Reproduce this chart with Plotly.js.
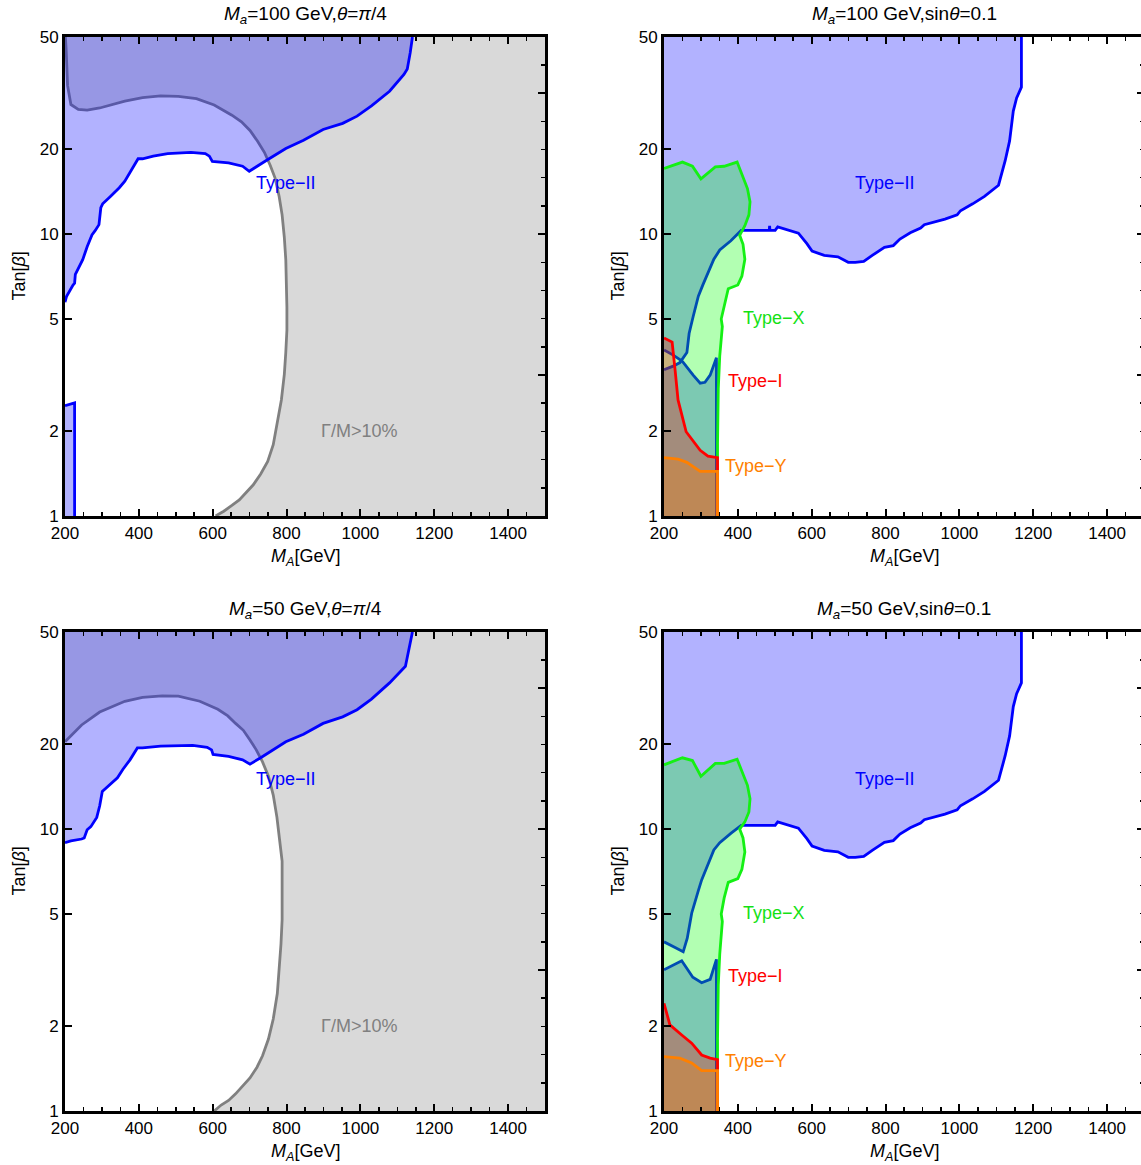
<!DOCTYPE html>
<html><head><meta charset="utf-8">
<script src="https://cdn.plot.ly/plotly-3.0.1.min.js"></script>
<style>html,body{margin:0;padding:0;overflow:hidden;background:#fff}#plot{width:1160px;height:1165px}</style>
</head><body><div id="plot"></div>
<script>
// ---------- axes ----------
const X_MIN = 200, X_MAX = 1500, Y_MIN = 1, Y_MAX = 50;
const xTickVals = [200, 400, 600, 800, 1000, 1200, 1400];
const yTickVals = [1, 2, 5, 10, 20, 50];
const rightMajorLog = [0.5, 1.0, 1.5];
const rightMinorLog = [0.1, 0.2, 0.3, 0.4, 0.6, 0.7, 0.8, 0.9, 1.1, 1.2, 1.3, 1.4, 1.6];

// ---------- panel titles ----------
const panelTitles = [
  '<i>M</i><sub><i>a</i></sub>=100 GeV,<i>θ</i>=<i>π</i>/4',
  '<i>M</i><sub><i>a</i></sub>=100 GeV,sin<i>θ</i>=0.1',
  '<i>M</i><sub><i>a</i></sub>=50 GeV,<i>θ</i>=<i>π</i>/4',
  '<i>M</i><sub><i>a</i></sub>=50 GeV,sin<i>θ</i>=0.1'
];
const xTitle = '<i>M</i><sub><i>A</i></sub>[GeV]';
const yTitle = 'Tan[<i>β</i>]';

// ---------- top-left: Ma=100, theta=pi/4 ----------
const widthTL_x = [201, 203, 207, 216, 236, 260, 294, 362, 410, 459, 507, 556, 604, 628, 652, 678, 701, 722, 740, 756, 769, 780, 788, 794, 798, 801, 801, 798, 794, 786, 776, 764, 749, 730, 710, 691, 672, 652, 630, 608];
const widthTL_y = [50, 45.4, 33.6, 28.8, 27.7, 27.5, 28.0, 29.6, 30.5, 30.9, 30.8, 30.2, 28.7, 27.6, 26.4, 25.0, 23.3, 21.3, 19.5, 17.5, 15.8, 13.6, 11.7, 9.73, 8.1, 5.48, 4.57, 3.81, 3.18, 2.58, 2.15, 1.79, 1.56, 1.41, 1.29, 1.21, 1.14, 1.09, 1.04, 1.0];
const typeIITL_x = [200, 204, 221, 226, 228, 238, 248, 260, 273, 282, 292, 297, 302, 323, 347, 362, 373, 386, 398, 410, 439, 478, 507, 541, 580, 591, 599, 643, 681, 699, 744, 798, 846, 899, 952, 991, 1030, 1079, 1118, 1127, 1135, 1141];
const typeIITL_y = [5.73, 6.0, 6.57, 6.7, 7.19, 7.69, 8.11, 9.02, 9.93, 10.3, 10.8, 12.4, 12.8, 13.6, 14.6, 15.4, 16.3, 17.3, 18.5, 18.5, 18.9, 19.3, 19.4, 19.5, 19.3, 18.9, 18.1, 17.9, 17.4, 16.7, 18.2, 20.1, 21.5, 23.5, 24.7, 26.2, 28.5, 32.1, 36.8, 38.5, 44.0, 50];
const typeIITLlow_x = [200, 226, 226];
const typeIITLlow_y = [2.46, 2.52, 1];

// ---------- bottom-left: Ma=50, theta=pi/4 ----------
const widthBL_x = [200, 245, 294, 362, 410, 463, 507, 565, 614, 641, 662, 683, 701, 718, 735, 751, 764, 774, 781, 788, 788, 788, 785, 781, 775, 764, 751, 735, 720, 701, 681, 662, 643, 623, 604];
const widthBL_y = [20.4, 23.4, 26.0, 28.4, 29.3, 29.7, 29.6, 28.4, 26.6, 25.2, 23.7, 22.4, 20.7, 19.1, 17.3, 15.4, 13.2, 11.0, 9.2, 7.7, 6.43, 4.76, 3.92, 3.22, 2.61, 2.12, 1.80, 1.57, 1.43, 1.31, 1.22, 1.15, 1.09, 1.05, 1.0];
const typeIIBL_x = [200, 216, 245, 252, 260, 270, 286, 294, 301, 323, 342, 357, 376, 396, 410, 459, 507, 546, 585, 597, 601, 643, 681, 701, 730, 798, 846, 899, 952, 991, 1030, 1079, 1122, 1132, 1141];
const typeIIBL_y = [8.95, 9.08, 9.22, 9.3, 9.94, 10.2, 11.0, 12.1, 13.6, 14.5, 15.2, 16.3, 17.6, 19.4, 19.4, 19.7, 19.8, 19.8, 19.5, 19.1, 18.4, 18.1, 17.6, 17.0, 17.9, 20.4, 21.7, 23.7, 25.0, 26.5, 28.9, 33.0, 37.8, 43.3, 50];

// ---------- top-right: Ma=100, sin(theta)=0.1 ----------
const mainTR_x = [1168, 1168, 1155, 1146, 1136, 1124, 1106, 1068, 1036, 1003, 994, 961, 905, 895, 867, 839, 821, 797, 764, 741, 718, 699, 671, 634, 601, 587, 564, 531, 508, 501, 487, 486, 485, 409];
const mainTR_y = [50, 33.2, 30.4, 27.3, 21.4, 18.2, 14.9, 13.6, 12.8, 12.1, 11.7, 11.3, 10.8, 10.5, 10.1, 9.6, 9.1, 8.97, 8.4, 8.0, 7.94, 7.94, 8.3, 8.4, 8.7, 9.25, 10.07, 10.4, 10.6, 10.3, 10.3, 10.7, 10.3, 10.3];
const bUpTR_x = [381, 351, 335, 305, 293, 279, 268, 262, 252, 247];
const bUpTR_y = [9.47, 8.78, 8.14, 6.59, 6.02, 5.1, 4.44, 3.8, 3.62, 3.56];
const bLoTR_x = [243, 225, 200];
const bLoTR_y = [3.5, 3.4, 3.3];
const aLeTR_x = [200, 225, 247];
const aLeTR_y = [3.88, 3.72, 3.56];
const aRiTR_x = [251, 279, 298, 311, 325, 342, 342];
const aRiTR_y = [3.52, 3.16, 2.96, 2.98, 3.16, 3.64, 1];
const typeXTR_x = [200, 250, 277, 300, 339, 363, 398, 414, 426, 433, 430, 419, 405, 414, 419, 411, 400, 374, 363, 355, 358, 351, 347, 345, 345];
const typeXTR_y = [17.1, 18.0, 17.4, 15.7, 17.3, 17.4, 18.0, 15.8, 14.5, 13.0, 11.7, 10.7, 9.9, 9.2, 8.14, 7.1, 6.6, 6.4, 5.5, 5.0, 4.7, 3.7, 2.82, 1.8, 1];
const typeITR_x = [200, 222, 230, 238, 260, 298, 319, 345, 345];
const typeITR_y = [4.28, 4.14, 3.3, 2.58, 1.99, 1.71, 1.63, 1.61, 1];
const typeYTR_x = [200, 238, 262, 298, 345, 345];
const typeYTR_y = [1.61, 1.59, 1.55, 1.44, 1.44, 1];

// ---------- bottom-right: Ma=50, sin(theta)=0.1 ----------
const mainBR_x = [1168, 1168, 1155, 1146, 1136, 1124, 1106, 1068, 1036, 1003, 994, 961, 905, 895, 867, 839, 821, 797, 764, 741, 718, 699, 671, 634, 601, 587, 564, 531, 508, 501, 409];
const mainBR_y = [50, 33.0, 30.2, 27.2, 21.4, 18.2, 14.9, 13.6, 12.8, 12.1, 11.7, 11.3, 10.8, 10.5, 10.1, 9.6, 9.1, 8.97, 8.4, 8.0, 7.94, 7.94, 8.3, 8.4, 8.7, 9.25, 10.07, 10.4, 10.6, 10.3, 10.3];
const bBR_x = [381, 351, 335, 302, 293, 275, 263, 252, 230, 200];
const bBR_y = [9.65, 8.95, 8.43, 6.6, 6.05, 5.03, 4.10, 3.67, 3.8, 3.98];
const aBR_x = [200, 248, 278, 302, 325, 342, 342];
const aBR_y = [3.17, 3.41, 2.98, 2.85, 2.93, 3.45, 1];
const typeXBR_x = [200, 250, 277, 300, 339, 363, 398, 414, 426, 433, 430, 419, 405, 414, 419, 411, 400, 374, 363, 355, 358, 351, 347, 345, 345];
const typeXBR_y = [16.9, 17.9, 17.5, 15.4, 17.1, 17.1, 17.7, 15.8, 14.3, 12.8, 11.5, 10.6, 10.0, 9.3, 8.3, 7.2, 6.67, 6.47, 5.7, 5.0, 4.7, 3.6, 2.8, 1.8, 1];
const typeIBR_x = [200, 216, 248, 275, 302, 325, 345, 345];
const typeIBR_y = [2.41, 2.02, 1.86, 1.74, 1.58, 1.54, 1.52, 1];
const typeYBR_x = [200, 243, 275, 302, 345, 345];
const typeYBR_y = [1.56, 1.54, 1.48, 1.39, 1.39, 1];

// ---------- region labels ----------
const labelText = ['Type−II', 'Γ/M>10%', 'Type−II', 'Type−X', 'Type−I', 'Type−Y', 'Type−II', 'Γ/M>10%', 'Type−II', 'Type−X', 'Type−I', 'Type−Y'];
const labelPanel = [0, 0, 1, 1, 1, 1, 2, 2, 3, 3, 3, 3];
const labelX = [799, 997, 799, 498, 449, 449, 799, 997, 799, 498, 449, 449];
const labelY = [15.2, 2.0, 15.2, 5.04, 3.01, 1.50, 15.1, 2.0, 15.1, 5.04, 3.01, 1.50];
const labelColor = ['blue', 'gray', 'blue', 'green', 'red', 'orange', 'blue', 'gray', 'blue', 'green', 'red', 'orange'];

// ---------- styles ----------
const FONT = '"Liberation Sans", Arial, Helvetica, sans-serif';
const COL = {
  blue:   {line: 'rgb(0,0,255)',     fill: 'rgba(0,0,255,0.3)',   text: 'rgb(0,0,255)'},
  green:  {line: 'rgb(20,240,20)',   fill: 'rgba(0,255,0,0.3)',   text: 'rgb(20,225,20)'},
  red:    {line: 'rgb(255,0,0)',     fill: 'rgba(255,0,0,0.3)',   text: 'rgb(255,0,0)'},
  orange: {line: 'rgb(255,128,0)',   fill: 'rgba(255,128,0,0.3)', text: 'rgb(255,128,0)'},
  gray:   {line: 'rgb(128,128,128)', fill: 'rgb(217,217,217)',    text: 'rgb(128,128,128)'}
};
const LW = 2.8;
const AX = [['x', 'y'], ['x2', 'y2'], ['x3', 'y3'], ['x4', 'y4']];

const traces = [];
function fillTrace(p, xs, ys, color) {
  traces.push({type: 'scatter', mode: 'none', x: xs, y: ys, fill: 'toself', fillcolor: color,
    xaxis: AX[p][0], yaxis: AX[p][1], hoverinfo: 'skip', showlegend: false});
}
function lineTrace(p, xs, ys, color) {
  traces.push({type: 'scatter', mode: 'lines', x: xs, y: ys, line: {color: color, width: LW},
    xaxis: AX[p][0], yaxis: AX[p][1], hoverinfo: 'skip', showlegend: false});
}
const rev = a => a.slice().reverse();

// top-left
fillTrace(0, widthTL_x.concat([X_MAX, X_MAX]), widthTL_y.concat([Y_MIN, Y_MAX]), COL.gray.fill);
lineTrace(0, widthTL_x, widthTL_y, COL.gray.line);
fillTrace(0, typeIITL_x.concat([X_MIN]), typeIITL_y.concat([Y_MAX]), COL.blue.fill);
lineTrace(0, typeIITL_x, typeIITL_y, COL.blue.line);
fillTrace(0, typeIITLlow_x.concat([X_MIN]), typeIITLlow_y.concat([Y_MIN]), COL.blue.fill);
lineTrace(0, typeIITLlow_x, typeIITLlow_y, COL.blue.line);

// bottom-left
fillTrace(2, [X_MIN].concat(widthBL_x, [X_MAX, X_MAX]), [Y_MAX].concat(widthBL_y, [Y_MIN, Y_MAX]), COL.gray.fill);
lineTrace(2, widthBL_x, widthBL_y, COL.gray.line);
fillTrace(2, typeIIBL_x.concat([X_MIN]), typeIIBL_y.concat([Y_MAX]), COL.blue.fill);
lineTrace(2, typeIIBL_x, typeIIBL_y, COL.blue.line);

// top-right
fillTrace(1, [X_MIN].concat(mainTR_x, bUpTR_x, rev(aLeTR_x)), [Y_MAX].concat(mainTR_y, bUpTR_y, rev(aLeTR_y)), COL.blue.fill);
fillTrace(1, [X_MIN].concat(rev(bLoTR_x), aLeTR_x.slice(-1), aRiTR_x), [Y_MIN].concat(rev(bLoTR_y), aLeTR_y.slice(-1), aRiTR_y), COL.blue.fill);
lineTrace(1, mainTR_x.concat(bUpTR_x, bLoTR_x), mainTR_y.concat(bUpTR_y, bLoTR_y), COL.blue.line);
lineTrace(1, aLeTR_x.concat(aRiTR_x), aLeTR_y.concat(aRiTR_y), COL.blue.line);
fillTrace(1, typeXTR_x.concat([X_MIN]), typeXTR_y.concat([Y_MIN]), COL.green.fill);
lineTrace(1, typeXTR_x, typeXTR_y, COL.green.line);
fillTrace(1, typeITR_x.concat([X_MIN]), typeITR_y.concat([Y_MIN]), COL.red.fill);
lineTrace(1, typeITR_x, typeITR_y, COL.red.line);
fillTrace(1, typeYTR_x.concat([X_MIN]), typeYTR_y.concat([Y_MIN]), COL.orange.fill);
lineTrace(1, typeYTR_x, typeYTR_y, COL.orange.line);

// bottom-right
fillTrace(3, [X_MIN].concat(mainBR_x, bBR_x), [Y_MAX].concat(mainBR_y, bBR_y), COL.blue.fill);
fillTrace(3, [X_MIN].concat(aBR_x), [Y_MIN].concat(aBR_y), COL.blue.fill);
lineTrace(3, mainBR_x.concat(bBR_x), mainBR_y.concat(bBR_y), COL.blue.line);
lineTrace(3, aBR_x, aBR_y, COL.blue.line);
fillTrace(3, typeXBR_x.concat([X_MIN]), typeXBR_y.concat([Y_MIN]), COL.green.fill);
lineTrace(3, typeXBR_x, typeXBR_y, COL.green.line);
fillTrace(3, typeIBR_x.concat([X_MIN]), typeIBR_y.concat([Y_MIN]), COL.red.fill);
lineTrace(3, typeIBR_x, typeIBR_y, COL.red.line);
fillTrace(3, typeYBR_x.concat([X_MIN]), typeYBR_y.concat([Y_MIN]), COL.orange.fill);
lineTrace(3, typeYBR_x, typeYBR_y, COL.orange.line);

// empty traces to realise the right-hand frame axes (major and minor tick sets)
for (let i = 0; i < 4; i++) {
  ['y' + (i + 5), 'y' + (i + 9)].forEach(ya => {
    traces.push({type: 'scatter', mode: 'lines', x: [], y: [], xaxis: AX[i][0], yaxis: ya, hoverinfo: 'skip', showlegend: false});
  });
}

// ---------- layout ----------
const W = 1160, H = 1165;
const colPix = [[65, 545], [664, 1144], [65, 545], [664, 1144]];
const rowPix = [[37, 516], [37, 516], [632, 1111], [632, 1111]];
const yLogRange = [Math.log10(Y_MIN), Math.log10(Y_MAX)];
const tickFont = {family: FONT, size: 17, color: '#000'};
const FRAME = 3;

const layout = {
  width: W, height: H, margin: {l: 0, r: 0, t: 0, b: 0},
  paper_bgcolor: '#fff', plot_bgcolor: 'rgba(0,0,0,0)', showlegend: false,
  font: {family: FONT, size: 17, color: '#000'}, annotations: []
};
for (let p = 0; p < 4; p++) {
  const xk = p === 0 ? 'xaxis' : 'xaxis' + (p + 1);
  const yk = p === 0 ? 'yaxis' : 'yaxis' + (p + 1);
  const xid = AX[p][0], yid = AX[p][1];
  layout[xk] = {
    domain: [colPix[p][0] / W, colPix[p][1] / W], anchor: yid, range: [X_MIN, X_MAX],
    showline: true, linewidth: FRAME, linecolor: '#000', mirror: 'ticks',
    ticks: 'inside', ticklen: 7, tickwidth: 2, tickcolor: '#000',
    tickmode: 'array', tickvals: xTickVals, ticktext: xTickVals.map(String), tickfont: tickFont,
    showgrid: false, zeroline: false, fixedrange: true,
    minor: {ticks: 'inside', ticklen: 4, tickwidth: 1.5, tickcolor: '#000', tick0: X_MIN, dtick: 50, showgrid: false}
  };
  layout[yk] = {
    domain: [1 - rowPix[p][1] / H, 1 - rowPix[p][0] / H], anchor: xid, type: 'log', range: yLogRange,
    showline: true, linewidth: FRAME, linecolor: '#000', mirror: false,
    ticks: 'inside', ticklen: 7, tickwidth: 2, tickcolor: '#000',
    tickmode: 'array', tickvals: yTickVals, ticktext: yTickVals.map(String), tickfont: tickFont,
    showgrid: false, zeroline: false, fixedrange: true
  };
  layout['yaxis' + (p + 5)] = {
    overlaying: yid, anchor: xid, side: 'right', type: 'log', range: yLogRange,
    showline: true, linewidth: FRAME, linecolor: '#000',
    ticks: 'inside', ticklen: 7, tickwidth: 2, tickcolor: '#000',
    tickmode: 'array', tickvals: rightMajorLog.map(v => Math.pow(10, v)), showticklabels: false,
    showgrid: false, zeroline: false, fixedrange: true
  };
  layout['yaxis' + (p + 9)] = {
    overlaying: yid, anchor: xid, side: 'right', type: 'log', range: yLogRange,
    showline: false, ticks: 'inside', ticklen: 4, tickwidth: 1.5, tickcolor: '#000',
    tickmode: 'array', tickvals: rightMinorLog.map(v => Math.pow(10, v)), showticklabels: false,
    showgrid: false, zeroline: false, fixedrange: true
  };
  const cx = (colPix[p][0] + colPix[p][1]) / 2;
  layout.annotations.push({xref: 'paper', yref: 'paper', x: cx / W, y: 1 - (rowPix[p][0] - 22) / H,
    text: panelTitles[p], showarrow: false, xanchor: 'center', yanchor: 'middle', font: {family: FONT, size: 19, color: '#000'}});
  layout.annotations.push({xref: 'paper', yref: 'paper', x: cx / W, y: 1 - (rowPix[p][1] + 41) / H,
    text: xTitle, showarrow: false, xanchor: 'center', yanchor: 'middle', font: {family: FONT, size: 18, color: '#000'}});
  layout.annotations.push({xref: 'paper', yref: 'paper', x: (colPix[p][0] - 47) / W, y: 1 - ((rowPix[p][0] + rowPix[p][1]) / 2) / H,
    text: yTitle, showarrow: false, textangle: -90, xanchor: 'center', yanchor: 'middle', font: {family: FONT, size: 18, color: '#000'}});
}
for (let i = 0; i < labelText.length; i++) {
  const p = labelPanel[i];
  layout.annotations.push({xref: AX[p][0], yref: AX[p][1], x: labelX[i], y: Math.log10(labelY[i]),
    text: labelText[i], showarrow: false, xanchor: 'center', yanchor: 'middle',
    font: {family: FONT, size: 18, color: COL[labelColor[i]].text}});
}

Plotly.newPlot('plot', traces, layout, {staticPlot: true, displayModeBar: false});
</script>
</body></html>
